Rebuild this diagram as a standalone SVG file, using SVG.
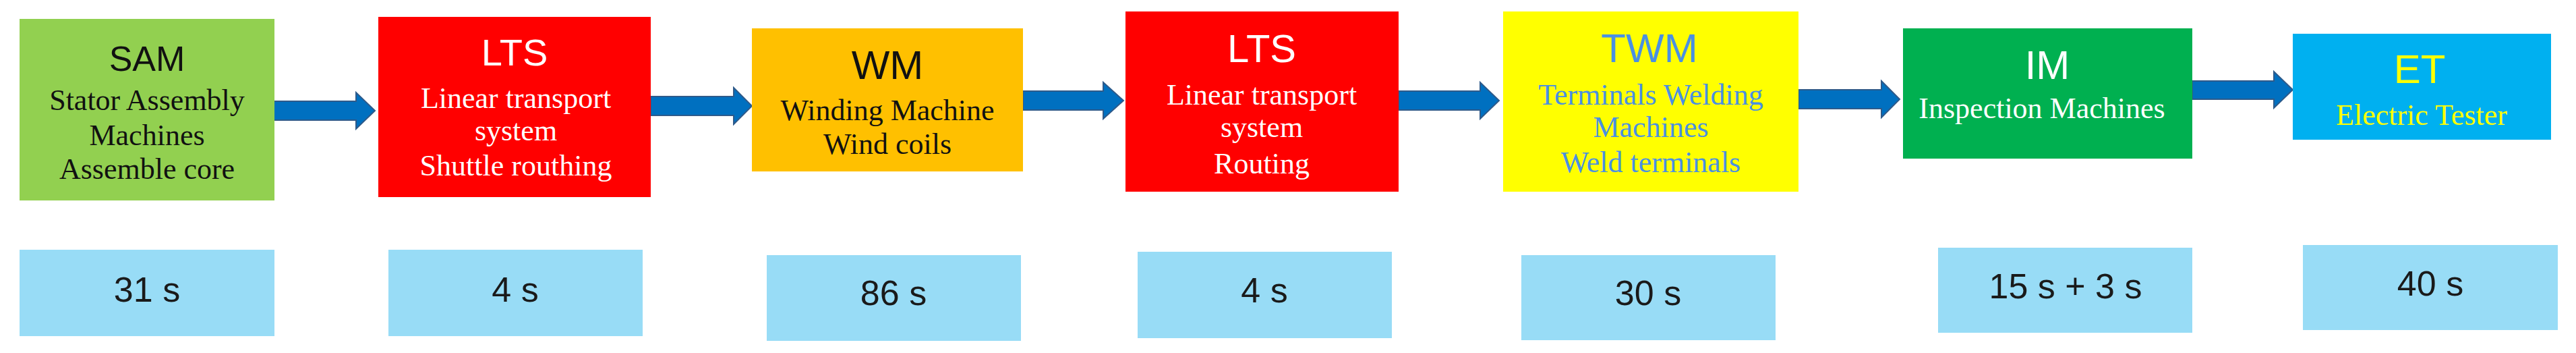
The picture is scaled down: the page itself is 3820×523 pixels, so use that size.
<svg xmlns="http://www.w3.org/2000/svg" width="3820" height="523" viewBox="0 0 3820 523">
<style>
.title{font-family:"Liberation Sans",Arial,sans-serif;text-anchor:middle}
.body{font-family:"Liberation Serif","Times New Roman",serif;font-size:44px;text-anchor:middle}
.time{font-family:"Liberation Sans",Arial,sans-serif;font-size:52px;text-anchor:middle;fill:#1a1a1a}
.tbox{fill:#98DCF6}
.arrow{fill:#0070C0;stroke:#2E5A8A;stroke-width:2;stroke-linejoin:miter}
</style>
<rect width="3820" height="523" fill="#FFFFFF"/>
<g id="connectors">
<path class="arrow" d="M405,150 H528 V137 L556,164 L528,191 V178 H405 Z"/>
<path class="arrow" d="M965,143 H1088 V130 L1115,157 L1088,184 V171 H965 Z"/>
<path class="arrow" d="M1517,135 H1636 V122 L1666,149 L1636,176 V163 H1517 Z"/>
<path class="arrow" d="M2074,135 H2195 V122 L2223,149 L2195,176 V163 H2074 Z"/>
<path class="arrow" d="M2667,133 H2790 V120 L2817,147 L2790,174 V161 H2667 Z"/>
<path class="arrow" d="M3251,120 H3372 V106 L3400,133 L3372,160 V147 H3251 Z"/>
</g>
<g id="node-sam">
<rect x="29" y="28" width="378" height="269" fill="#92D050"/>
<text class="title" x="218" y="105" font-size="52" fill="#111">SAM</text>
<text class="body" x="218" y="163" fill="#111">Stator Assembly</text>
<text class="body" x="218" y="215" fill="#111">Machines</text>
<text class="body" x="218" y="265" fill="#111">Assemble core</text>
</g>
<g id="node-lts1">
<rect x="561" y="25" width="404" height="267" fill="#FF0000"/>
<text class="title" x="763" y="97" font-size="56" fill="#FFFFFF">LTS</text>
<text class="body" x="765" y="160" fill="#FFFFFF">Linear transport</text>
<text class="body" x="765" y="208" fill="#FFFFFF">system</text>
<text class="body" x="765" y="260" fill="#FFFFFF">Shuttle routhing</text>
</g>
<g id="node-wm">
<rect x="1115" y="42" width="402" height="212" fill="#FFC000"/>
<text class="title" x="1316" y="117" font-size="60" fill="#111">WM</text>
<text class="body" x="1316" y="178" fill="#111">Winding Machine</text>
<text class="body" x="1316" y="228" fill="#111">Wind coils</text>
</g>
<g id="node-lts2">
<rect x="1669" y="17" width="405" height="267" fill="#FF0000"/>
<text class="title" x="1871" y="92" font-size="58" fill="#FFFFFF">LTS</text>
<text class="body" x="1871" y="155" fill="#FFFFFF">Linear transport</text>
<text class="body" x="1871" y="203" fill="#FFFFFF">system</text>
<text class="body" x="1871" y="257" fill="#FFFFFF">Routing</text>
</g>
<g id="node-twm">
<rect x="2229" y="17" width="438" height="267" fill="#FFFF00"/>
<text class="title" x="2446" y="92" font-size="60" fill="#4A90E2">TWM</text>
<text class="body" x="2448" y="155" fill="#4A90E2">Terminals Welding</text>
<text class="body" x="2448" y="203" fill="#4A90E2">Machines</text>
<text class="body" x="2448" y="255" fill="#4A90E2">Weld terminals</text>
</g>
<g id="node-im">
<rect x="2822" y="42" width="429" height="193" fill="#00B050"/>
<text class="title" x="3036" y="117" font-size="60" fill="#FFFFFF">IM</text>
<text class="body" x="3028" y="175" fill="#FFFFFF">Inspection Machines</text>
</g>
<g id="node-et">
<rect x="3400" y="50" width="383" height="157" fill="#00B0F0"/>
<text class="title" x="3588" y="123" font-size="60" fill="#FFFF00">ET</text>
<text class="body" x="3591" y="185" fill="#FFFF00">Electric Tester</text>
</g>
<g id="time-sam">
<rect class="tbox" x="29" y="370" width="378" height="128"/>
<text class="time" x="218" y="447">31 s</text>
</g>
<g id="time-lts1">
<rect class="tbox" x="576" y="370" width="377" height="128"/>
<text class="time" x="764" y="447">4 s</text>
</g>
<g id="time-wm">
<rect class="tbox" x="1137" y="378" width="377" height="127"/>
<text class="time" x="1325" y="452">86 s</text>
</g>
<g id="time-lts2">
<rect class="tbox" x="1687" y="373" width="377" height="128"/>
<text class="time" x="1875" y="448">4 s</text>
</g>
<g id="time-twm">
<rect class="tbox" x="2256" y="378" width="377" height="126"/>
<text class="time" x="2444" y="452">30 s</text>
</g>
<g id="time-im">
<rect class="tbox" x="2874" y="367" width="377" height="126"/>
<text class="time" x="3063" y="442">15 s + 3 s</text>
</g>
<g id="time-et">
<rect class="tbox" x="3415" y="363" width="378" height="126"/>
<text class="time" x="3604" y="438">40 s</text>
</g>
</svg>
